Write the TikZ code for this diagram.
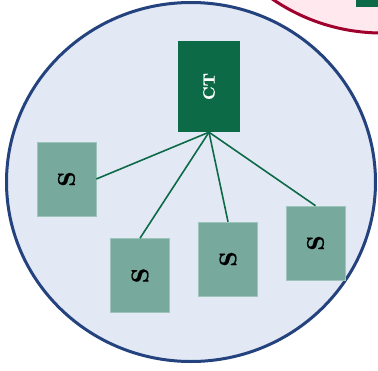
\documentclass[tikz,border=0pt]{standalone}
\usepackage{fontspec}
\setmainfont{Latin Modern Roman}
\newfontfamily\heavyfont{lmroman10-bold.otf}[FakeBold=0.6]
\definecolor{ringblue}{HTML}{24427E}
\definecolor{ringfill}{HTML}{E3E8F5}
\definecolor{ctgreen}{HTML}{0C6B46}
\definecolor{sgreen}{HTML}{77AA9C}
\definecolor{sborder}{HTML}{9CC4B8}
\definecolor{redring}{HTML}{A0002D}
\definecolor{pinkfill}{HTML}{FFE9EE}
\tikzset{
  ctbox/.style={fill=ctgreen, text=white, minimum width=62pt, minimum height=91pt, inner sep=0pt},
  sbox/.style={fill=sgreen, draw=sborder, line width=0.6pt, minimum width=59pt, minimum height=74pt, inner sep=0pt},
  link/.style={draw=ctgreen, line width=1.6pt}}
\newcommand{\ctlabel}{\heavyfont\fontsize{16.5}{16.5}\selectfont}
\newcommand{\slabel}{\heavyfont\fontsize{24}{24}\selectfont}
\begin{document}
\begin{tikzpicture}[x=1pt,y=-1pt]
\useasboundingbox (0,0) rectangle (378,370);
\begin{scope}
\clip (0,0) rectangle (378,370);
\draw[redring, fill=pinkfill, line width=3pt] (382,-161) circle[radius=194pt];
\fill[ctgreen] (356,-10) rectangle (390,7.3);
\draw[ringblue, fill=ringfill, line width=3pt] (191,182) ellipse[x radius=184.5pt, y radius=179.5pt];
\end{scope}
\node[ctbox] (ct) at (209,86.5) {\rotatebox{90}{\ctlabel CT}};
\node[sbox] (s1) at (66.5,179) {\rotatebox{90}{\slabel S}};
\node[sbox] (s2) at (140,275.5) {\rotatebox{90}{\slabel S}};
\node[sbox] (s3) at (228,259) {\rotatebox{90}{\slabel S}};
\node[sbox] (s4) at (315.5,243) {\rotatebox{90}{\slabel S}};
\draw[link] (ct.south) -- (s1.east);
\draw[link] (ct.south) -- (s2.north);
\draw[link] (ct.south) -- (s3.north);
\draw[link] (ct.south) -- (s4.north);
\end{tikzpicture}
\end{document}
